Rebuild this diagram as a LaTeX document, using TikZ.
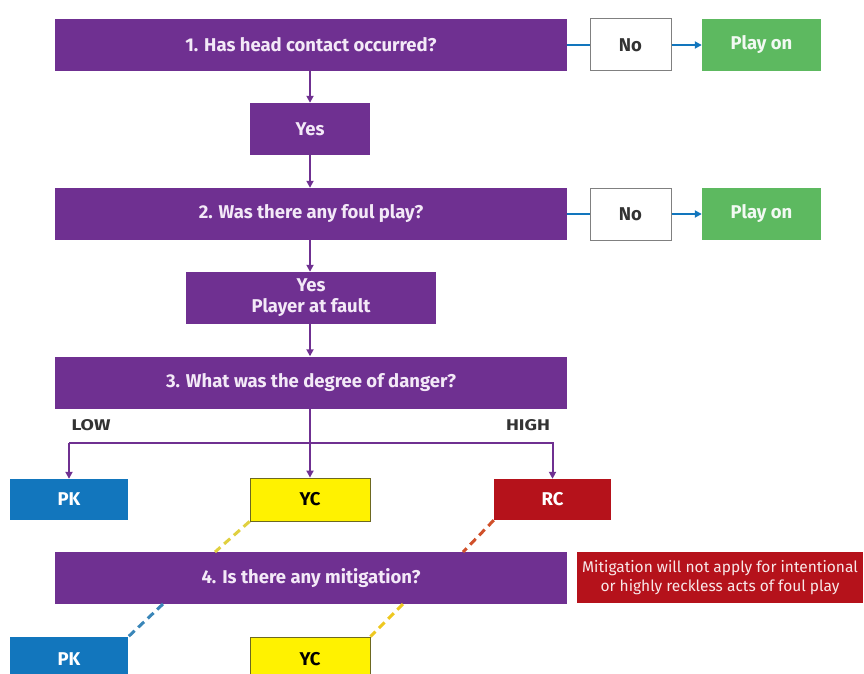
\documentclass[tikz,border=0pt]{standalone}
\usepackage{fontspec}
\setmainfont{Fira Sans}
\newfontfamily\widefont{Fira Sans}[FakeStretch=1.25]
\usetikzlibrary{arrows.meta}
\definecolor{pur}{HTML}{6F3091}
\definecolor{ptext}{HTML}{F3E9F7}
\definecolor{grn}{HTML}{5DB960}
\definecolor{blu}{HTML}{1276BD}
\definecolor{yel}{HTML}{FFF200}
\definecolor{rd}{HTML}{B5121B}
\definecolor{ydash}{HTML}{E0D040}
\definecolor{rdash}{HTML}{D0502A}
\definecolor{bdash}{HTML}{3A86B8}
\definecolor{y2dash}{HTML}{EEC820}
\tikzset{
  box/.style={draw=none, inner sep=0pt, align=center, font=\fontsize{18.5}{22}\selectfont\bfseries},
  qbox/.style={box, fill=pur, text=ptext, minimum width=512pt, minimum height=52pt},
  ybox/.style={box, fill=pur, text=ptext, minimum height=52pt},
  nobox/.style={box, fill=white, draw=gray, line width=1pt, text=black!80, minimum width=81pt, minimum height=52pt},
  playbox/.style={box, fill=grn, text=white!92!grn, minimum width=119pt, minimum height=52pt},
  pkbox/.style={box, fill=blu, text=white, minimum width=118pt, minimum height=41pt},
  ycbox/.style={box, fill=yel, draw=olive!70!black, line width=0.8pt, text=black, minimum width=120pt, minimum height=43pt},
  rcbox/.style={box, fill=rd, text=white, minimum width=117pt, minimum height=41pt},
  parr/.style={draw=pur, line width=2pt, -{Triangle[length=7pt,width=7pt]}},
  bline/.style={draw=blu, line width=2pt},
  barr/.style={draw=blu, line width=2pt, -{Triangle[length=7pt,width=7pt]}},
  dline/.style={line width=3pt, dash pattern=on 8pt off 5pt},
  lbl/.style={font=\widefont\fontsize{15.5}{18}\selectfont\bfseries, text=black!80, inner sep=0pt}
}
\begin{document}
\begin{tikzpicture}[x=1pt,y=-1pt]
\useasboundingbox (0,0) rectangle (864,674);
% row 1
\node[qbox] (q1) at (311,45) {1. Has head contact occurred?};
\node[nobox] (no1) at (630.5,45) {No};
\node[playbox] (play1) at (761.5,45) {Play on};
\node[ybox, minimum width=120pt] (yes1) at (310,129) {Yes};
% row 2
\node[qbox] (q2) at (311,214) {2. Was there any foul play?};
\node[nobox] (no2) at (630.5,214) {No};
\node[playbox] (play2) at (761.5,214) {Play on};
\node[ybox, minimum width=250pt, font=\fontsize{18.5}{21}\selectfont\bfseries] (yes2) at (311,298) {Yes\\Player at fault};
% row 3
\node[qbox] (q3) at (311,382.5) {3. What was the degree of danger?};
\node[lbl] (low) at (91,425) {LOW};
\node[lbl] (high) at (528,425) {HIGH};
\node[pkbox] (pk1) at (69,499.5) {PK};
\node[ycbox] (yc1) at (310,499.5) {YC};
\node[rcbox] (rc1) at (552.5,499.5) {RC};
% row 4
\node[qbox] (q4) at (311,578) {4. Is there any mitigation?};
\node[box, fill=rd, text=white!90!rd, minimum width=286pt, minimum height=51pt, font=\fontsize{15.5}{19}\selectfont] (note) at (720,577.5) {Mitigation will not apply for intentional\\or highly reckless acts of foul play};
\node[pkbox, minimum height=44pt] (pk2) at (69,659) {PK};
\node[ycbox, minimum height=44pt] (yc2) at (310,659) {YC};
% connectors
\draw[parr] (q1.south -| yes1) -- (yes1);
\draw[parr] (yes1) -- (q2.north -| yes1);
\draw[parr] (q2.south -| yes1) -- (yes2.north -| yes1);
\draw[parr] (yes2.south -| yes1) -- (q3.north -| yes1);
\draw[bline] (q1) -- (no1);
\draw[barr] (no1) -- (play1);
\draw[bline] (q2) -- (no2);
\draw[barr] (no2) -- (play2);
\coordinate (split) at (310,443);
\draw[parr] (q3.south -| yc1) -- (yc1);
\draw[parr] (split -| pk1) |- (split) -| (rc1.north);
\draw[parr] (split -| pk1) -- (pk1);
% dashed
\coordinate (d1) at (215,552);
\coordinate (d2) at (463,552);
\coordinate (d3) at (163,604);
\coordinate (d4) at (403,604);
\draw[dline, draw=ydash] (yc1.south west) -- (d1);
\draw[dline, draw=rdash] (rc1.south west) -- (d2);
\draw[dline, draw=bdash] (d3) -- (pk2.north east);
\draw[dline, draw=y2dash] (d4) -- (yc2.north east);
\end{tikzpicture}
\end{document}
